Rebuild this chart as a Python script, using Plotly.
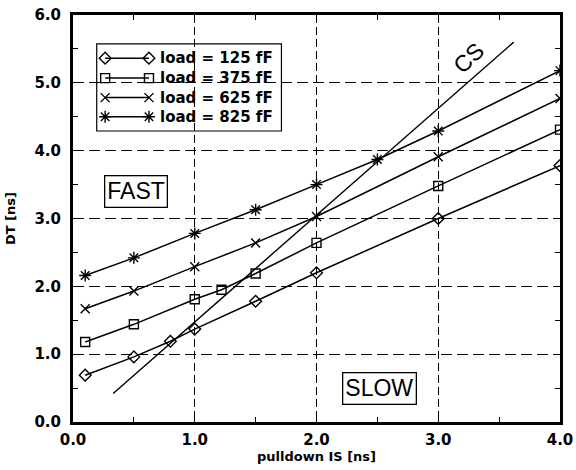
import plotly.graph_objects as go

# ---- data ----
x_125 = [0.1, 0.5, 0.8, 1.0, 1.5, 2.0, 3.0, 4.0]
y_125 = [0.69, 0.96, 1.19, 1.37, 1.78, 2.20, 3.00, 3.78]

x_375 = [0.1, 0.5, 1.0, 1.22, 1.5, 2.0, 3.0, 4.0]
y_375 = [1.18, 1.44, 1.81, 1.95, 2.19, 2.64, 3.48, 4.31]

x_625 = [0.1, 0.5, 1.0, 1.5, 2.0, 3.0, 4.0]
y_625 = [1.67, 1.93, 2.29, 2.64, 3.03, 3.91, 4.77]

x_825 = [0.1, 0.5, 1.0, 1.5, 2.0, 2.5, 3.0, 4.0]
y_825 = [2.16, 2.42, 2.78, 3.13, 3.50, 3.87, 4.29, 5.18]

cs_x = [0.33, 3.62]
cs_y = [0.42, 5.60]

series_names = ["load = 125 fF", "load = 375 fF", "load = 625 fF", "load = 825 fF"]
series_symbols = ["diamond-open", "square-open", "x-thin-open", "asterisk-open"]
series_sizes = [9, 9, 9, 10]

x_ticks = [0, 1, 2, 3, 4]
x_ticklabels = ["0.0", "1.0", "2.0", "3.0", "4.0"]
y_ticks = [0, 1, 2, 3, 4, 5, 6]
y_ticklabels = ["0.0", "1.0", "2.0", "3.0", "4.0", "5.0", "6.0"]

# ---- figure ----
fig = go.Figure()
xs = [x_125, x_375, x_625, x_825]
ys = [y_125, y_375, y_625, y_825]
for xv, yv, nm, sym, sz in zip(xs, ys, series_names, series_symbols, series_sizes):
    fig.add_trace(go.Scatter(
        x=xv, y=yv, mode="lines+markers", name=nm, showlegend=False,
        line=dict(color="black", width=1.5),
        marker=dict(symbol=sym, size=sz, color="black",
                    line=dict(color="black", width=1.4)),
    ))

fig.add_trace(go.Scatter(x=cs_x, y=cs_y, mode="lines", showlegend=False,
                         line=dict(color="black", width=1.4)))

# ---- custom legend (paper-like overlay axes) ----
leg_x0, leg_x1 = 0.0487, 0.428
leg_y0, leg_y1 = 0.715, 0.929
row_y = [0.894, 0.845, 0.797, 0.750]
line_x0, line_x1 = 0.066, 0.156
text_x = 0.174

for ry, nm, sym, sz in zip(row_y, series_names, series_symbols, series_sizes):
    fig.add_trace(go.Scatter(
        x=[line_x0, line_x1], y=[ry, ry], xaxis="x2", yaxis="y2",
        mode="lines+markers", showlegend=False, hoverinfo="skip",
        line=dict(color="black", width=1.5),
        marker=dict(symbol=sym, size=sz, color="black",
                    line=dict(color="black", width=1.4)),
    ))
    fig.add_annotation(x=text_x, y=ry, xref="x2", yref="y2", text=nm,
                       showarrow=False, xanchor="left", yanchor="middle",
                       font=dict(family="DejaVu Sans", size=15, color="black",
                                 weight="bold"))

fig.add_shape(type="rect", xref="paper", yref="paper",
              x0=leg_x0, x1=leg_x1, y0=leg_y0, y1=leg_y1,
              line=dict(color="black", width=1.2), fillcolor="white",
              layer="below")

# ---- text labels ----
fig.add_annotation(x=0.52, y=3.40, text="FAST", showarrow=False,
                   font=dict(family="Liberation Sans", size=23, color="black"),
                   bordercolor="black", borderwidth=1.3, borderpad=2,
                   bgcolor="white")
fig.add_annotation(x=2.52, y=0.50, text="SLOW", showarrow=False,
                   font=dict(family="Liberation Sans", size=23, color="black"),
                   bordercolor="black", borderwidth=1.3, borderpad=2,
                   bgcolor="white")
fig.add_annotation(x=3.25, y=5.36, text="CS", showarrow=False, textangle=-43,
                   font=dict(family="Liberation Sans", size=23, color="black"))

axis_common = dict(
    showline=True, linecolor="black", linewidth=3, mirror="allticks",
    ticks="inside", ticklen=0, tickcolor="black",
    showgrid=True, gridcolor="black", gridwidth=1,
    zeroline=False, ticklabeloverflow="allow", automargin=False,
    tickfont=dict(family="DejaVu Sans", size=15, color="black", weight="bold"),
    minor=dict(ticks="inside", ticklen=5, tickcolor="black", tickwidth=1,
               dtick=0.5, showgrid=False),
)

fig.update_layout(
    width=576, height=470,
    margin=dict(l=73, r=16, t=15, b=48),
    paper_bgcolor="white", plot_bgcolor="white",
    xaxis=dict(range=[0, 4], tickvals=x_ticks, ticktext=x_ticklabels,
               griddash="8px,4px", ticklabelstandoff=2,
               title=dict(text="pulldown IS [ns]", standoff=4,
                          font=dict(family="DejaVu Sans", size=13,
                                    color="black", weight="bold")),
               **axis_common),
    yaxis=dict(range=[0, 6], tickvals=y_ticks, ticktext=y_ticklabels,
               griddash="11px,5px", ticklabelstandoff=6,
               title=dict(text="DT [ns]", standoff=16,
                          font=dict(family="DejaVu Sans", size=13,
                                    color="black", weight="bold")),
               **axis_common),
    xaxis2=dict(range=[0, 1], overlaying="x", visible=False, fixedrange=True),
    yaxis2=dict(range=[0, 1], overlaying="y", visible=False, fixedrange=True),
    showlegend=False,
)

fig.write_html("out.html")
